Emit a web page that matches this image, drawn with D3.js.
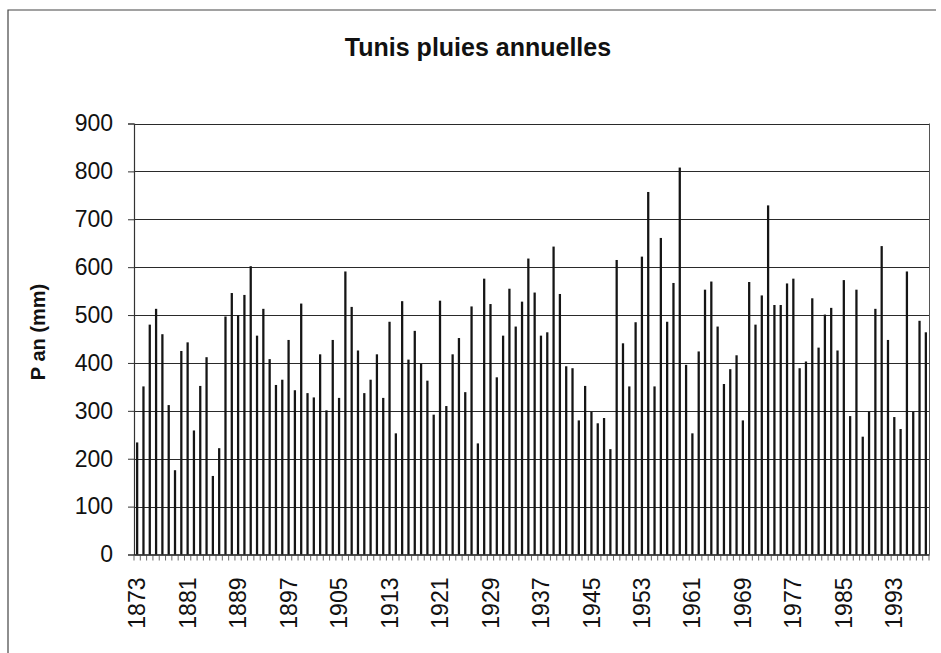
<!DOCTYPE html>
<html>
<head>
<meta charset="utf-8">
<script src="https://cdn.jsdelivr.net/npm/d3@7"></script>
<style>
body { margin: 0; background: #fff; }
svg { display: block; font-family: "Liberation Sans", Arial, sans-serif; }
</style>
</head>
<body>
<svg></svg>
<script>
var years = d3.range(1873, 1999);

var rain = [
234, 351, 480, 513, 460, 312, 176, 425, 443, 259,
352, 412, 164, 222, 497, 546, 500, 542, 602, 457,
513, 408, 354, 365, 448, 343, 524, 337, 328, 418,
301, 448, 327, 591, 517, 426, 337, 365, 418, 327,
486, 253, 529, 407, 467, 398, 363, 292, 530, 310,
418, 452, 339, 518, 232, 576, 523, 370, 457, 555,
476, 528, 618, 547, 457, 464, 643, 544, 393, 389,
280, 352, 298, 274, 285, 220, 615, 441, 351, 485,
622, 757, 351, 661, 486, 567, 808, 396, 253, 424,
553, 570, 476, 356, 387, 416, 280, 569, 480, 541,
729, 521, 521, 566, 576, 389, 403, 535, 432, 501,
515, 426, 573, 289, 553, 246, 298, 513, 644, 448,
287, 262, 591, 298, 488, 464
];

var yTicks = [0, 100, 200, 300, 400, 500, 600, 700, 800, 900];
var xTickLabels = ["1873","1881","1889","1897","1905","1913","1921","1929",
                   "1937","1945","1953","1961","1969","1977","1985","1993"];

var w = 941;
var h = 653;
var plotL = 134, plotR = 929, plotT = 123.5, plotB = 554.5;

var svg = d3.select('svg')
    .attr('width', w)
    .attr('height', h);

// outer chart frame (only left and top edges visible)
svg.append('path')
    .attr('d', 'M8,' + h + 'V10H936')
    .attr('fill', 'none')
    .attr('stroke', '#444')
    .attr('stroke-width', 1.2);

svg.append('text')
    .attr('x', 478)
    .attr('y', 56)
    .attr('text-anchor', 'middle')
    .attr('font-size', 25)
    .attr('font-weight', 'bold')
    .attr('fill', '#111')
    .text('Tunis pluies annuelles');

var x = d3.scaleBand()
    .domain(years)
    .range([plotL, plotR])
    .paddingInner(0.64)
    .paddingOuter(0.32);

var y = d3.scaleLinear()
    .domain([0, 900])
    .range([plotB, plotT]);

// gridlines
svg.selectAll('line.grid')
    .data(yTicks.slice(1))
    .enter()
    .append('line')
    .attr('class', 'grid')
    .attr('x1', plotL)
    .attr('x2', plotR)
    .attr('y1', function(d){ return Math.round(y(d)) + 0.5 })
    .attr('y2', function(d){ return Math.round(y(d)) + 0.5 })
    .attr('stroke', '#2a2a2a')
    .attr('stroke-width', 1.2);

// right border of plot
svg.append('line')
    .attr('x1', plotR + 0.5).attr('x2', plotR + 0.5)
    .attr('y1', plotT).attr('y2', plotB)
    .attr('stroke', '#555')
    .attr('stroke-width', 1);

svg.selectAll('rect.bar')
    .data(rain)
    .enter()
    .append('rect')
    .attr('class', 'bar')
    .attr('x', function(d, i){ return x(years[i]) })
    .attr('width', x.bandwidth())
    .attr('y', function(d){ return y(d) })
    .attr('height', function(d){ return plotB - y(d) })
    .attr('fill', '#151515');

// y axis
var yAxis = d3.axisLeft(y)
    .tickValues(yTicks)
    .tickSize(6)
    .tickPadding(15)
    .tickFormat(d3.format('d'));

var gy = svg.append('g')
    .attr('transform', 'translate(' + plotL + ',0)')
    .call(yAxis);
gy.select('.domain').attr('stroke', '#333').attr('stroke-width', 1.2);
gy.selectAll('.tick line').attr('stroke', '#333');
gy.selectAll('.tick text')
    .attr('font-size', 23)
    .attr('font-family', '"Liberation Sans", Arial, sans-serif')
    .attr('fill', '#111');

// x axis: labels every 8 years
var xAxis = d3.axisBottom(x)
    .tickValues(years.filter(function(d){ return xTickLabels.indexOf(String(d)) >= 0 }))
    .tickSize(0)
    .tickPadding(0);

var gx = svg.append('g')
    .attr('transform', 'translate(0,' + plotB + ')')
    .call(xAxis);
gx.select('.domain').attr('stroke', '#111').attr('stroke-width', 1.4);
gx.selectAll('.tick text')
    .attr('font-size', 23)
    .attr('font-family', '"Liberation Sans", Arial, sans-serif')
    .attr('fill', '#111')
    .attr('text-anchor', 'end')
    .attr('dy', '0.35em')
    .attr('transform', 'translate(0,23) rotate(-90)');

// small tick marks between categories
svg.selectAll('line.xtick')
    .data(years.concat([null]))
    .enter()
    .append('line')
    .attr('class', 'xtick')
    .attr('x1', function(d, i){ return plotL + i * x.step() })
    .attr('x2', function(d, i){ return plotL + i * x.step() })
    .attr('y1', plotB)
    .attr('y2', plotB + 6)
    .attr('stroke', '#444')
    .attr('stroke-width', 0.8);

svg.append('text')
    .attr('transform', 'translate(45,332) rotate(-90)')
    .attr('text-anchor', 'middle')
    .attr('font-size', 20)
    .attr('font-weight', 'bold')
    .attr('fill', '#111')
    .text('P an (mm)');
</script>
</body>
</html>
